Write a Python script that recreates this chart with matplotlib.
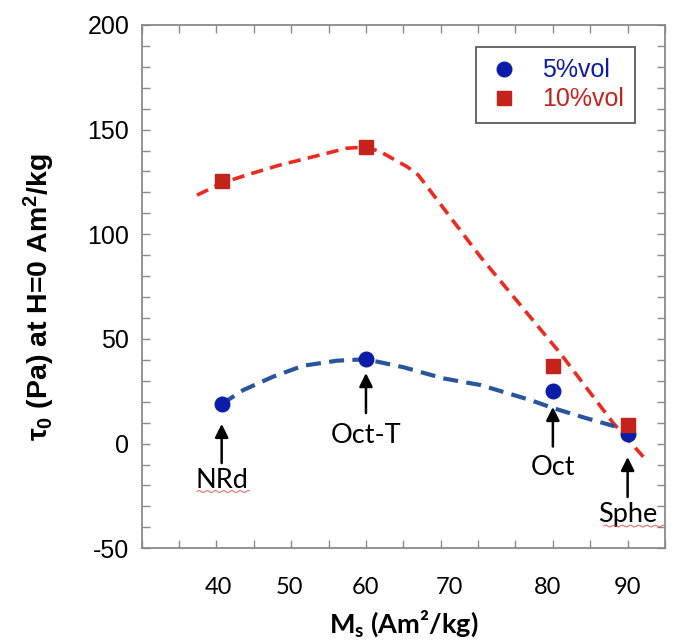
import numpy as np
import matplotlib
matplotlib.use("Agg")
import matplotlib.pyplot as plt
from matplotlib.ticker import MultipleLocator, FixedLocator

# ---- data -----------------------------------------------------------------
ms_values = [40.7, 60.0, 85.0, 95.0]          # saturation magnetisation (Am2/kg)
particle_names = ["NRd", "Oct-T", "Oct", "Sphe"]
tau_5vol = [18.9, 40.3, 25.3, 4.4]             # yield stress, 5 %vol
tau_10vol = [125.5, 141.6, 37.1, 8.9]          # yield stress, 10 %vol

# guide-to-the-eye trend lines
trend5_x = [40.7, 43.6, 47.6, 51.6, 56.1, 60.0, 65.0, 70.3, 75.3, 81.9, 85.1, 89.5, 95.8]
trend5_y = [18.9, 25.6, 32.0, 37.2, 39.6, 40.3, 36.5, 31.2, 28.0, 20.9, 16.9, 12.1, 5.7]
trend10_x = [37.4, 40.7, 44.0, 48.5, 53.0, 57.4, 60.0, 61.9, 65.5, 67.0, 75.3, 86.0, 93.1, 97.1]
trend10_y = [118.7, 124.4, 128.3, 133.1, 137.1, 141.1, 141.7, 139.5, 132.3, 128.3, 89.3, 43.1, 9.7, -6.3]

x_ticklabels = ["40", "50", "60", "70", "80", "90"]
y_ticklabels = ["-50", "0", "50", "100", "150", "200"]

# the x labels were typeset by hand and sit a little off the tick grid
x_label_pos = [40.2, 49.8, 60.0, 71.2, 84.3, 95.0]

# ---- styling --------------------------------------------------------------
BLUE_MK = "#0B1DA8"
RED_MK = "#C5221B"
BLUE_LN = "#2A559C"
RED_LN = "#EC2A20"
FRAME = "#8a8a8a"

fig = plt.figure(figsize=(6.75, 6.42), dpi=100)
ax = fig.add_axes([0.2099, 0.1460, 0.7753, 0.8151])

ax.plot(trend10_x, trend10_y, color=RED_LN, lw=2.6, dashes=(3.4, 2.0), zorder=2)
ax.plot(trend5_x, trend5_y, color=BLUE_LN, lw=3.0, dashes=(3.6, 2.0), zorder=2)

ax.plot(ms_values, tau_5vol, "o", ms=10.5, color=BLUE_MK, mec=BLUE_MK,
        ls="none", label="5%vol", zorder=3)
ax.plot(ms_values, tau_10vol, "s", ms=10.5, color=RED_MK, mec=RED_MK,
        ls="none", label="10%vol", zorder=3)

ax.set_xlim(30, 100)
ax.set_ylim(-50, 200)

# frame and ticks
for sp in ax.spines.values():
    sp.set_color(FRAME)
    sp.set_linewidth(1.3)

ax.xaxis.remove_overlapping_locs = False
ax.xaxis.set_major_locator(FixedLocator(x_label_pos))
ax.xaxis.set_minor_locator(MultipleLocator(5))
ax.yaxis.set_major_locator(FixedLocator([int(t) for t in y_ticklabels]))
ax.yaxis.set_minor_locator(MultipleLocator(10))
ax.tick_params(which="both", direction="in", top=True, right=True,
               length=6, width=1.0, color=FRAME)
ax.tick_params(axis="x", which="major", length=0, pad=21)
ax.set_xticklabels(x_ticklabels, fontfamily="Lato", fontsize=17)
ax.set_yticklabels(y_ticklabels, fontfamily="Liberation Sans", fontsize=18)
ax.tick_params(axis="y", pad=9)

ax.set_xlabel(r"M$\mathregular{_s}$ (Am²/kg)", fontfamily="Lato",
              fontweight="bold", fontsize=19.5)
ax.xaxis.set_label_coords(0.5, -0.115)
ax.set_ylabel(r"$\mathregular{\tau_0}$ (Pa) at H=0 Am$\mathregular{^2}$/kg",
              fontfamily="Liberation Sans", fontweight="bold", fontsize=20.5)
ax.yaxis.set_label_coords(-0.162, 0.48)

# particle labels with arrows
arrow_tip = [9.4, 33.7, 17.5, -6.4]
arrow_tail = [-9.3, 14.6, -1.4, -25.5]
label_base = [-21.3, 0.3, -15.0, -37.5]
for name, x, tip, tail, base in zip(particle_names, ms_values,
                                     arrow_tip, arrow_tail, label_base):
    ax.annotate("", xy=(x, tip), xytext=(x, tail),
                arrowprops=dict(arrowstyle="-|>", color="black", lw=1.8,
                                mutation_scale=20, shrinkA=0, shrinkB=0),
                zorder=4)
    ax.text(x, base, name, ha="center", va="baseline", fontfamily="Lato",
            fontsize=19.5, color="black", zorder=4)

# spell-check squiggles under two of the labels
for x0, x1, yy in [(37.4, 44.4, -22.9), (91.8, 99.8, -39.4)]:
    xs = np.linspace(x0, x1, 60)
    ys = yy + 0.45 * np.sin((xs - x0) / 0.55 * np.pi)
    ax.plot(xs, ys, color="#e23b3b", lw=0.7, alpha=0.85, zorder=4)

leg = ax.legend(loc="upper right", bbox_to_anchor=(0.9427, 0.9575),
                prop=dict(family="Liberation Sans", size=18),
                frameon=True, fancybox=False, borderpad=0.45,
                handletextpad=0.8, labelspacing=0.2, handlelength=1.4,
                borderaxespad=0)
leg.get_frame().set_edgecolor("#333333")
leg.get_frame().set_linewidth(1.3)
for txt, c in zip(leg.get_texts(), [BLUE_MK, RED_MK]):
    txt.set_color(c)

fig.savefig("out.png", dpi=100)
